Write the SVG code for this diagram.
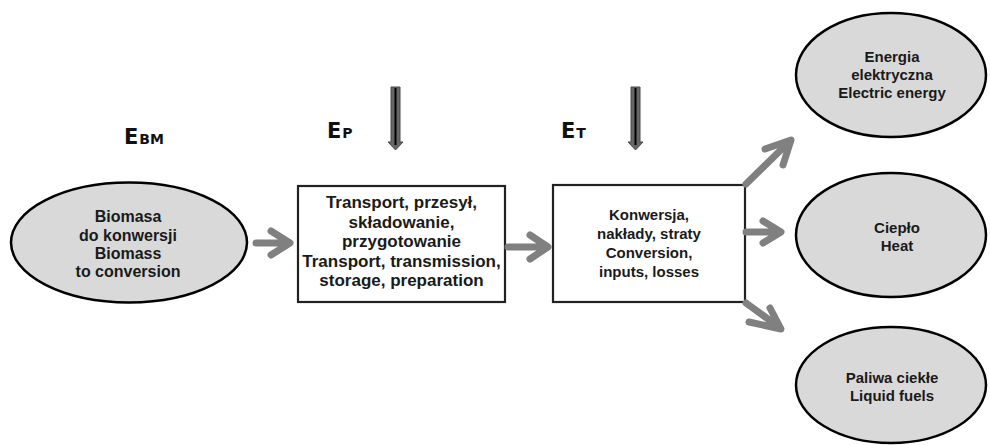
<svg xmlns="http://www.w3.org/2000/svg" width="990" height="445" viewBox="0 0 990 445">
<defs>
<style>
.bg{fill:#ffffff}
.ell{fill:#d9d9d9;stroke:#000;stroke-width:2.5}
.box{fill:#ffffff;stroke:#222;stroke-width:2.2}
.t{font-family:"Liberation Sans",Arial,sans-serif;font-weight:bold;fill:#1a1a1a;text-anchor:middle}
.t16{font-size:16px}
.t15{font-size:15px}
.t17{font-size:17px}
.lab{font-family:"DejaVu Sans",Verdana,sans-serif;font-weight:bold;fill:#111}
.garr{fill:none;stroke:#808080;stroke-width:7;stroke-linecap:round;stroke-linejoin:round}
.darr{fill:#666666;stroke:#4a4a4a;stroke-width:1}
.dline{stroke:#000;stroke-width:2}
</style>
</defs>
<rect class="bg" x="0" y="0" width="990" height="445"/>

<g id="labels">
<text class="lab" x="124" y="144"><tspan font-size="21">E</tspan><tspan font-size="14" dx="1">BM</tspan></text>
<text class="lab" x="327" y="138"><tspan font-size="21">E</tspan><tspan font-size="14" dx="1">P</tspan></text>
<text class="lab" x="561" y="138"><tspan font-size="21">E</tspan><tspan font-size="14" dx="1">T</tspan></text>
</g>

<g id="node-biomass">
<ellipse class="ell" cx="129" cy="242.5" rx="118" ry="60"/>
<text class="t t16" x="128" y="222">Biomasa</text>
<text class="t t16" x="128" y="241">do konwersji</text>
<text class="t t16" x="128" y="259">Biomass</text>
<text class="t t16" x="128" y="277">to conversion</text>
</g>

<g id="node-transport">
<rect class="box" x="298" y="186" width="207" height="116"/>
<text class="t t17" x="401.5" y="208">Transport, przesył,</text>
<text class="t t17" x="401.5" y="228">składowanie,</text>
<text class="t t17" x="401.5" y="247">przygotowanie</text>
<text class="t t17" x="401.5" y="267">Transport, transmission,</text>
<text class="t t17" x="401.5" y="286">storage, preparation</text>
</g>

<g id="node-conversion">
<rect class="box" x="553" y="185" width="192" height="117"/>
<text class="t t15" x="649" y="220">Konwersja,</text>
<text class="t t15" x="649" y="239">nakłady, straty</text>
<text class="t t15" x="649" y="258">Conversion,</text>
<text class="t t15" x="649" y="277">inputs, losses</text>
</g>

<g id="node-electric">
<ellipse class="ell" cx="891" cy="75" rx="95" ry="62"/>
<text class="t t15" x="892" y="62">Energia</text>
<text class="t t15" x="892" y="80">elektryczna</text>
<text class="t t15" x="892" y="98">Electric energy</text>
</g>

<g id="node-heat">
<ellipse class="ell" cx="891" cy="235" rx="95" ry="62"/>
<text class="t t15" x="897" y="233">Ciepło</text>
<text class="t t15" x="897" y="251">Heat</text>
</g>

<g id="node-fuels">
<ellipse class="ell" cx="891" cy="385" rx="95" ry="58"/>
<text class="t t15" x="892" y="383">Paliwa ciekłe</text>
<text class="t t15" x="892" y="401">Liquid fuels</text>
</g>

<g id="connectors">
<path class="garr" d="M256,243 H288 M271,231 L290,243 L271,255"/>
<path class="garr" d="M508,247 H545 M530,235 L548,247 L530,259"/>
<path class="garr" d="M746,232 H779 M763,221 L781,232 L763,243"/>
<path class="garr" d="M746,184 L789,142 M765,149 L791,140 L783,165"/>
<path class="garr" d="M746,303 L779,327 M749,322 L781,329 L770,308"/>
<path class="darr" d="M391,87 H400 V142 H403 L395.5,150 L388,142 H391 Z"/>
<line class="dline" x1="395.5" y1="88" x2="395.5" y2="145"/>
<path class="darr" d="M631,87 H640 V142 H643 L635.5,150 L628,142 H631 Z"/>
<line class="dline" x1="635.5" y1="88" x2="635.5" y2="145"/>
</g>
</svg>
